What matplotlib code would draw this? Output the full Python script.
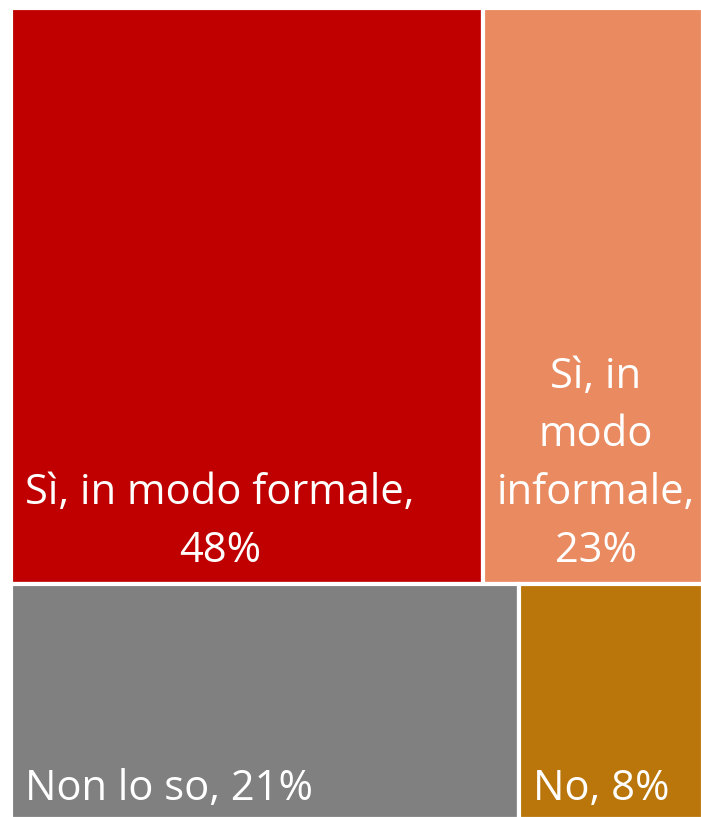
import matplotlib.pyplot as plt
from matplotlib.patches import Rectangle
from matplotlib.transforms import offset_copy

# treemap data: two rows
labels = ["Sì, in modo formale,\n48%", "Sì, in\nmodo\ninformale,\n23%",
          "Non lo so, 21%", "No, 8%"]
values = [48.4, 22.6, 21.3, 7.7]
rows = [[0, 1], [2, 3]]
colors = ["#C00000", "#E98A60", "#808080", "#BA760A"]

W, H = 701, 817
fig = plt.figure(figsize=(W / 100, H / 100), dpi=100)
# outer edges of the tiles run off the right and bottom of the canvas
ax = fig.add_axes([11 / W, -2 / H, 692 / W, 811 / H])
ax.set_xlim(0, 1)
ax.set_ylim(0, 1)
ax.axis("off")

total = sum(values)
top = 1.0
for r, row in enumerate(rows):
    row_sum = sum(values[i] for i in row)
    h = row_sum / total
    x = 0.0
    for i in row:
        w = values[i] / row_sum
        ax.add_patch(Rectangle((x, top - h), w, h, facecolor=colors[i],
                               edgecolor="white", linewidth=3, clip_on=False))
        dy = 22 if r == 0 else 19
        tr = offset_copy(ax.transData, fig=fig, x=14, y=dy, units="dots")
        ax.text(x, top - h, labels[i], transform=tr, color="white",
                fontsize=30, family="Open Sans", ha="left", va="baseline",
                multialignment="center", linespacing=1.5)
        x += w
    top -= h

fig.savefig("out.png", dpi=100)
